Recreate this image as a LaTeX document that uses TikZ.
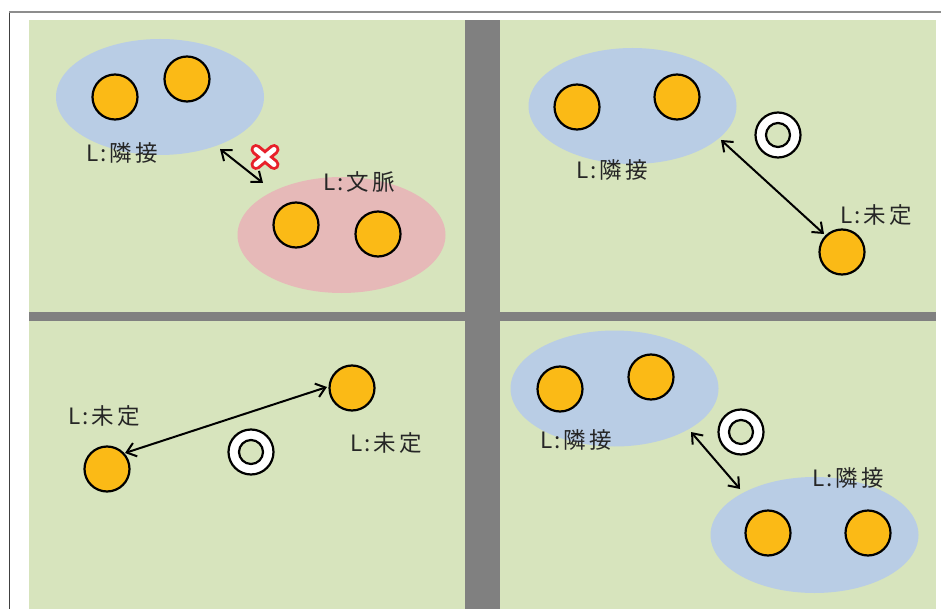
\documentclass[tikz,border=0pt]{standalone}
\usepackage{fontspec}
\newfontfamily\jp{Noto Sans CJK JP}
\usetikzlibrary{arrows.meta,shapes.geometric,calc}
\definecolor{pgreen}{HTML}{D7E4BD}
\definecolor{pgray}{HTML}{808080}
\definecolor{pblue}{HTML}{B9CDE5}
\definecolor{ppink}{HTML}{E6B9B8}
\definecolor{ballc}{HTML}{FBBA16}
\definecolor{xred}{HTML}{E8202A}
\newcommand{\lab}[2]{L\kern2.5pt:\kern2.5pt#1\kern3pt#2}
\begin{document}
\begin{tikzpicture}[x=1pt,y=-1pt,
  ball/.style={circle,draw=black,line width=2.2pt,fill=ballc,minimum size=45pt,inner sep=0pt},
  ring/.style={circle,draw=black,line width=2.2pt,fill=white,minimum size=45pt,inner sep=0pt},
  hole/.style={circle,draw=black,line width=2.2pt,fill=pgreen,minimum size=24pt,inner sep=0pt},
  blob/.style={ellipse,minimum width=208pt,minimum height=116pt,inner sep=0pt},
  lbl/.style={font=\jp\fontsize{22.5}{25}\selectfont,text=black!85,inner sep=0pt},
  dbl/.style={{Straight Barb[length=9pt,width=14pt]}-{Straight Barb[length=9pt,width=14pt]},line width=2pt,black}
]
\useasboundingbox (0,0) rectangle (941,609);
% frame and panels
\fill[white] (0,0) rectangle (941,609);
\draw[black!75,line width=1pt] (9,609) -- (9,12);
\draw[pgray!90,line width=1.5pt] (9,12) -- (941,12);
\fill[pgreen] (29,20) rectangle (936,609);
\fill[pgray] (465,20) rectangle (500,609);
\fill[pgray] (29,312) rectangle (936,321);

% ---------- top left ----------
\node[blob,fill=pblue] (tlb) at (160,97) {};
\node[blob,fill=ppink] (tlp) at (341.5,235) {};
\node[ball] (tl1) at (115,97) {};
\node[ball] (tl2) at (187,79) {};
\node[ball] (tl3) at (296,225) {};
\node[ball] (tl4) at (378,234) {};
\node[lbl] (tll1) at (122,153) {\lab{隣}{接}};
\node[lbl] (tll2) at (359,182) {\lab{文}{脈}};
\coordinate (tla) at (220,149);
\coordinate (tlc) at (263,183);
\draw[dbl] (tla) -- (tlc);
\coordinate (tlx) at (265,157);
\draw[xred,line width=11pt,line cap=round] ($(tlx)+(-9,-7.5)$) -- ($(tlx)+(9,7.5)$) ($(tlx)+(9,-7.5)$) -- ($(tlx)+(-9,7.5)$);
\draw[white,line width=5pt,line cap=round] ($(tlx)+(-9,-7.5)$) -- ($(tlx)+(9,7.5)$) ($(tlx)+(9,-7.5)$) -- ($(tlx)+(-9,7.5)$);

% ---------- top right ----------
\node[blob,fill=pblue] (trb) at (632.5,106) {};
\node[ball] (tr1) at (577,107) {};
\node[ball] (tr2) at (677,97) {};
\node[ball] (tr3) at (842,252) {};
\node[lbl] (trl1) at (612,170) {\lab{隣}{接}};
\node[lbl] (trl2) at (876,215) {\lab{未}{定}};
\node[ring] (trr) at (778,135) {};
\node[hole] (trh) at (778,135) {};
\coordinate (tra) at (721,140);
\coordinate (trc) at (824,234);
\draw[dbl] (tra) -- (trc);

% ---------- bottom left ----------
\node[ball] (bl1) at (107,469) {};
\node[ball] (bl2) at (352,388) {};
\node[lbl] (bll1) at (104,416) {\lab{未}{定}};
\node[lbl] (bll2) at (386,443) {\lab{未}{定}};
\node[ring] (blr) at (251,452) {};
\node[hole] (blh) at (251,452) {};
\coordinate (bla) at (125,453);
\coordinate (blc) at (327,387);
\draw[dbl] (bla) -- (blc);

% ---------- bottom right ----------
\node[blob,fill=pblue] (brb1) at (614.5,388.5) {};
\node[blob,fill=pblue] (brb2) at (814.5,535) {};
\node[ball] (br1) at (560,389) {};
\node[ball] (br2) at (651,377) {};
\node[ball] (br3) at (768,533) {};
\node[ball] (br4) at (868,533) {};
\node[lbl] (brl1) at (576,440) {\lab{隣}{接}};
\node[lbl] (brl2) at (848,478) {\lab{隣}{接}};
\node[ring] (brr) at (741,432) {};
\node[hole] (brh) at (741,432) {};
\coordinate (bra) at (691,432);
\coordinate (brc) at (740,489);
\draw[dbl] (bra) -- (brc);
\end{tikzpicture}
\end{document}
